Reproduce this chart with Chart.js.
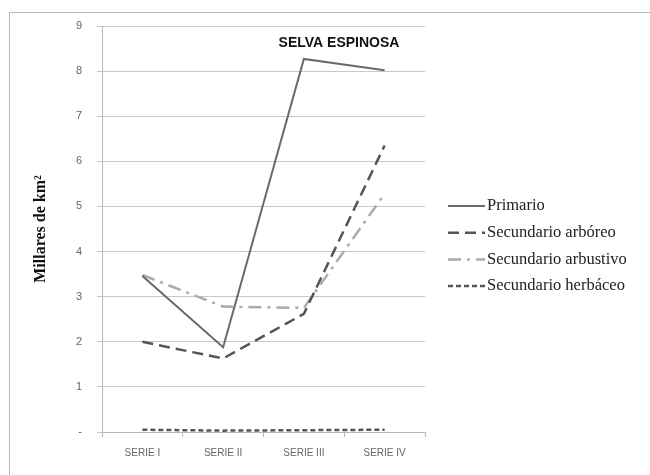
<!DOCTYPE html>
<html>
<head>
<meta charset="utf-8">
<script src="https://cdn.jsdelivr.net/npm/chart.js@4.4.1/dist/chart.umd.min.js"></script>
<style>
  html, body { margin: 0; padding: 0; background: #fff; }
  #wrap { position: relative; width: 650px; height: 475px; overflow: hidden; }
  #frame { position: absolute; left: 9px; top: 12px; width: 660px; height: 480px; border: 1px solid #b8b8b8; }
  canvas { position: absolute; left: 0; top: 0; }
</style>
</head>
<body>
<div id="wrap">
  <div id="frame"></div>
  <canvas id="chart" width="650" height="475"></canvas>
</div>
<script>
const categories = ["SERIE I", "SERIE II", "SERIE III", "SERIE IV"];
const primario = [3.46, 1.88, 8.27, 8.02];
const sec_arboreo = [2.0, 1.63, 2.62, 6.35];
const sec_arbustivo = [3.48, 2.78, 2.75, 5.28];
const sec_herbaceo = [0.05, 0.03, 0.04, 0.05];
const y_ticks = [0, 1, 2, 3, 4, 5, 6, 7, 8, 9];
const chart_title = "SELVA ESPINOSA";
const y_title = "Millares de km²";

// titulo dentro del grafico y leyenda con lineas a la derecha
const extras = {
    id: 'extras',
    afterDraw(chart) {
        const ctx = chart.ctx;
        const area = chart.chartArea;
        ctx.save();
        ctx.font = 'bold 14px "Liberation Sans", Arial, sans-serif';
        ctx.fillStyle = '#111';
        ctx.textAlign = 'center';
        ctx.textBaseline = 'middle';
        ctx.fillText(chart_title, 339, 43);

        const x0 = area.right + 23;
        const x1 = x0 + 37;
        chart.data.datasets.forEach((ds, i) => {
            const y = 206 + i * 26.7;
            ctx.beginPath();
            ctx.strokeStyle = ds.borderColor;
            ctx.lineWidth = ds.borderWidth;
            ctx.setLineDash(ds.borderDash || []);
            ctx.moveTo(x0, y);
            ctx.lineTo(x1, y);
            ctx.stroke();
            ctx.setLineDash([]);
            ctx.font = '16.5px "Liberation Serif", "DejaVu Serif", serif';
            ctx.fillStyle = '#222';
            ctx.textAlign = 'left';
            ctx.fillText(ds.label, x1 + 2, y);
        });
        ctx.restore();
    }
};

new Chart(document.getElementById("chart"), {
    type: 'line',
    data: {
        labels: categories,
        datasets: [
            {
                label: "Primario",
                data: primario,
                borderColor: "#6a6a6a",
                borderWidth: 2,
                fill: false
            },
            {
                label: "Secundario arbóreo",
                data: sec_arboreo,
                borderColor: "#555555",
                borderWidth: 2.5,
                borderDash: [11, 6],
                fill: false
            },
            {
                label: "Secundario arbustivo",
                data: sec_arbustivo,
                borderColor: "#ababab",
                borderWidth: 2.5,
                borderDash: [13, 6, 3, 6],
                fill: false
            },
            {
                label: "Secundario herbáceo",
                data: sec_herbaceo,
                borderColor: "#555555",
                borderWidth: 2.5,
                borderDash: [5, 3],
                fill: false
            }
        ]
    },
    options: {
        responsive: false,
        animation: false,
        layout: { padding: { left: 31, top: 26, right: 225, bottom: 0 } },
        elements: { point: { radius: 0 }, line: { tension: 0 } },
        plugins: { legend: { display: false }, tooltip: { enabled: false } },
        scales: {
            x: {
                offset: true,
                grid: { offset: true, drawOnChartArea: false, drawTicks: true, tickLength: 5, color: '#b8b8b8' },
                border: { display: true, color: '#b8b8b8' },
                ticks: { color: '#666', font: { family: '"Liberation Sans", Arial, sans-serif', size: 10 }, padding: 10 },
                afterFit: s => { s.height = 43; }
            },
            y: {
                min: 0,
                max: 9,
                afterBuildTicks: s => { s.ticks = y_ticks.map(v => ({ value: v })); },
                grid: { color: '#c8c8c8', drawTicks: true, tickLength: 5 },
                border: { display: true, color: '#b8b8b8' },
                ticks: {
                    color: '#666',
                    font: { family: '"Liberation Sans", Arial, sans-serif', size: 11 },
                    padding: 15,
                    callback: v => v === 0 ? '-' : v
                },
                title: {
                    display: true,
                    text: y_title,
                    color: '#111',
                    font: { family: '"Liberation Serif", "DejaVu Serif", serif', size: 16, weight: 'bold' },
                    padding: 0
                },
                afterFit: s => { s.width = 71; }
            }
        }
    },
    plugins: [extras]
});
</script>
</body>
</html>
